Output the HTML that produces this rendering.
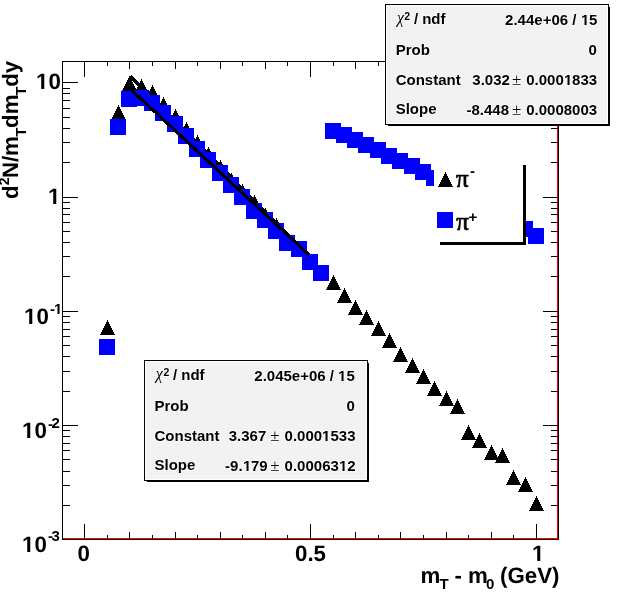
<!DOCTYPE html>
<html><head><meta charset="utf-8"><title>mT spectra</title>
<style>html,body{margin:0;padding:0;background:#fff;overflow:hidden;} svg{display:block;}</style>
</head><body>
<svg width="623" height="599" viewBox="0 0 623 599">
<rect x="0" y="0" width="623" height="599" fill="#fff"/>
<g shape-rendering="crispEdges">
<rect x="557" y="61" width="1" height="478" fill="#ff0000"/>
<rect x="62" y="538" width="496" height="1" fill="#ff0000"/>
<rect x="62" y="61" width="1" height="479" fill="#000"/>
<rect x="62" y="61" width="497" height="1" fill="#000"/>
<rect x="558" y="61" width="1" height="479" fill="#000"/>
<rect x="62" y="539" width="497" height="1" fill="#000"/>
<rect x="63" y="505" width="7" height="1" fill="#000"/>
<rect x="551" y="505" width="7" height="1" fill="#000"/>
<rect x="63" y="485" width="7" height="1" fill="#000"/>
<rect x="551" y="485" width="7" height="1" fill="#000"/>
<rect x="63" y="471" width="7" height="1" fill="#000"/>
<rect x="551" y="471" width="7" height="1" fill="#000"/>
<rect x="63" y="459" width="7" height="1" fill="#000"/>
<rect x="551" y="459" width="7" height="1" fill="#000"/>
<rect x="63" y="450" width="7" height="1" fill="#000"/>
<rect x="551" y="450" width="7" height="1" fill="#000"/>
<rect x="63" y="443" width="7" height="1" fill="#000"/>
<rect x="551" y="443" width="7" height="1" fill="#000"/>
<rect x="63" y="436" width="7" height="1" fill="#000"/>
<rect x="551" y="436" width="7" height="1" fill="#000"/>
<rect x="63" y="430" width="7" height="1" fill="#000"/>
<rect x="551" y="430" width="7" height="1" fill="#000"/>
<rect x="63" y="425" width="15" height="1" fill="#000"/>
<rect x="543" y="425" width="15" height="1" fill="#000"/>
<rect x="63" y="391" width="7" height="1" fill="#000"/>
<rect x="551" y="391" width="7" height="1" fill="#000"/>
<rect x="63" y="371" width="7" height="1" fill="#000"/>
<rect x="551" y="371" width="7" height="1" fill="#000"/>
<rect x="63" y="356" width="7" height="1" fill="#000"/>
<rect x="551" y="356" width="7" height="1" fill="#000"/>
<rect x="63" y="345" width="7" height="1" fill="#000"/>
<rect x="551" y="345" width="7" height="1" fill="#000"/>
<rect x="63" y="336" width="7" height="1" fill="#000"/>
<rect x="551" y="336" width="7" height="1" fill="#000"/>
<rect x="63" y="329" width="7" height="1" fill="#000"/>
<rect x="551" y="329" width="7" height="1" fill="#000"/>
<rect x="63" y="322" width="7" height="1" fill="#000"/>
<rect x="551" y="322" width="7" height="1" fill="#000"/>
<rect x="63" y="316" width="7" height="1" fill="#000"/>
<rect x="551" y="316" width="7" height="1" fill="#000"/>
<rect x="63" y="311" width="15" height="1" fill="#000"/>
<rect x="543" y="311" width="15" height="1" fill="#000"/>
<rect x="63" y="276" width="7" height="1" fill="#000"/>
<rect x="551" y="276" width="7" height="1" fill="#000"/>
<rect x="63" y="256" width="7" height="1" fill="#000"/>
<rect x="551" y="256" width="7" height="1" fill="#000"/>
<rect x="63" y="242" width="7" height="1" fill="#000"/>
<rect x="551" y="242" width="7" height="1" fill="#000"/>
<rect x="63" y="231" width="7" height="1" fill="#000"/>
<rect x="551" y="231" width="7" height="1" fill="#000"/>
<rect x="63" y="222" width="7" height="1" fill="#000"/>
<rect x="551" y="222" width="7" height="1" fill="#000"/>
<rect x="63" y="214" width="7" height="1" fill="#000"/>
<rect x="551" y="214" width="7" height="1" fill="#000"/>
<rect x="63" y="208" width="7" height="1" fill="#000"/>
<rect x="551" y="208" width="7" height="1" fill="#000"/>
<rect x="63" y="202" width="7" height="1" fill="#000"/>
<rect x="551" y="202" width="7" height="1" fill="#000"/>
<rect x="63" y="197" width="15" height="1" fill="#000"/>
<rect x="543" y="197" width="15" height="1" fill="#000"/>
<rect x="63" y="162" width="7" height="1" fill="#000"/>
<rect x="551" y="162" width="7" height="1" fill="#000"/>
<rect x="63" y="142" width="7" height="1" fill="#000"/>
<rect x="551" y="142" width="7" height="1" fill="#000"/>
<rect x="63" y="128" width="7" height="1" fill="#000"/>
<rect x="551" y="128" width="7" height="1" fill="#000"/>
<rect x="63" y="117" width="7" height="1" fill="#000"/>
<rect x="551" y="117" width="7" height="1" fill="#000"/>
<rect x="63" y="108" width="7" height="1" fill="#000"/>
<rect x="551" y="108" width="7" height="1" fill="#000"/>
<rect x="63" y="100" width="7" height="1" fill="#000"/>
<rect x="551" y="100" width="7" height="1" fill="#000"/>
<rect x="63" y="93" width="7" height="1" fill="#000"/>
<rect x="551" y="93" width="7" height="1" fill="#000"/>
<rect x="63" y="88" width="7" height="1" fill="#000"/>
<rect x="551" y="88" width="7" height="1" fill="#000"/>
<rect x="63" y="82" width="15" height="1" fill="#000"/>
<rect x="543" y="82" width="15" height="1" fill="#000"/>
<rect x="84" y="524" width="1" height="15" fill="#000"/>
<rect x="84" y="62" width="1" height="15" fill="#000"/>
<rect x="107" y="535" width="1" height="4" fill="#000"/>
<rect x="107" y="62" width="1" height="4" fill="#000"/>
<rect x="129" y="532" width="1" height="7" fill="#000"/>
<rect x="129" y="62" width="1" height="7" fill="#000"/>
<rect x="152" y="535" width="1" height="4" fill="#000"/>
<rect x="152" y="62" width="1" height="4" fill="#000"/>
<rect x="175" y="532" width="1" height="7" fill="#000"/>
<rect x="175" y="62" width="1" height="7" fill="#000"/>
<rect x="197" y="535" width="1" height="4" fill="#000"/>
<rect x="197" y="62" width="1" height="4" fill="#000"/>
<rect x="220" y="532" width="1" height="7" fill="#000"/>
<rect x="220" y="62" width="1" height="7" fill="#000"/>
<rect x="242" y="535" width="1" height="4" fill="#000"/>
<rect x="242" y="62" width="1" height="4" fill="#000"/>
<rect x="265" y="532" width="1" height="7" fill="#000"/>
<rect x="265" y="62" width="1" height="7" fill="#000"/>
<rect x="287" y="535" width="1" height="4" fill="#000"/>
<rect x="287" y="62" width="1" height="4" fill="#000"/>
<rect x="310" y="524" width="1" height="15" fill="#000"/>
<rect x="310" y="62" width="1" height="15" fill="#000"/>
<rect x="333" y="535" width="1" height="4" fill="#000"/>
<rect x="333" y="62" width="1" height="4" fill="#000"/>
<rect x="355" y="532" width="1" height="7" fill="#000"/>
<rect x="355" y="62" width="1" height="7" fill="#000"/>
<rect x="378" y="535" width="1" height="4" fill="#000"/>
<rect x="378" y="62" width="1" height="4" fill="#000"/>
<rect x="400" y="532" width="1" height="7" fill="#000"/>
<rect x="400" y="62" width="1" height="7" fill="#000"/>
<rect x="423" y="535" width="1" height="4" fill="#000"/>
<rect x="423" y="62" width="1" height="4" fill="#000"/>
<rect x="446" y="532" width="1" height="7" fill="#000"/>
<rect x="446" y="62" width="1" height="7" fill="#000"/>
<rect x="468" y="535" width="1" height="4" fill="#000"/>
<rect x="468" y="62" width="1" height="4" fill="#000"/>
<rect x="491" y="532" width="1" height="7" fill="#000"/>
<rect x="491" y="62" width="1" height="7" fill="#000"/>
<rect x="513" y="535" width="1" height="4" fill="#000"/>
<rect x="513" y="62" width="1" height="4" fill="#000"/>
<rect x="536" y="524" width="1" height="15" fill="#000"/>
<rect x="536" y="62" width="1" height="15" fill="#000"/>
<polygon points="100,335 115,335 107.5,320" fill="#000"/>
<polygon points="111,120 126,120 118.5,105" fill="#000"/>
<polygon points="122,91 137,91 129.5,76" fill="#000"/>
<polygon points="134,94 149,94 141.5,79" fill="#000"/>
<polygon points="145,100 160,100 152.5,85" fill="#000"/>
<polygon points="156,112 171,112 163.5,97" fill="#000"/>
<polygon points="168,124 183,124 175.5,109" fill="#000"/>
<polygon points="179,137 194,137 186.5,122" fill="#000"/>
<polygon points="190,150 205,150 197.5,135" fill="#000"/>
<polygon points="201,162 216,162 208.5,147" fill="#000"/>
<polygon points="213,175 228,175 220.5,160" fill="#000"/>
<polygon points="224,188 239,188 231.5,173" fill="#000"/>
<polygon points="235,199 250,199 242.5,184" fill="#000"/>
<polygon points="247,210 262,210 254.5,195" fill="#000"/>
<polygon points="258,223 273,223 265.5,208" fill="#000"/>
<polygon points="269,233 284,233 276.5,218" fill="#000"/>
<polygon points="280,250 295,250 287.5,235" fill="#000"/>
<polygon points="292,257 307,257 299.5,242" fill="#000"/>
<polygon points="303,270 318,270 310.5,255" fill="#000"/>
<polygon points="314,281 329,281 321.5,266" fill="#000"/>
<polygon points="326,290 341,290 333.5,275" fill="#000"/>
<polygon points="337,303 352,303 344.5,288" fill="#000"/>
<polygon points="348,315 363,315 355.5,300" fill="#000"/>
<polygon points="359,325 374,325 366.5,310" fill="#000"/>
<polygon points="371,336 386,336 378.5,321" fill="#000"/>
<polygon points="382,348 397,348 389.5,333" fill="#000"/>
<polygon points="393,362 408,362 400.5,347" fill="#000"/>
<polygon points="405,373 420,373 412.5,358" fill="#000"/>
<polygon points="416,384 431,384 423.5,369" fill="#000"/>
<polygon points="427,396 442,396 434.5,381" fill="#000"/>
<polygon points="439,406 454,406 446.5,391" fill="#000"/>
<polygon points="450,414 465,414 457.5,399" fill="#000"/>
<polygon points="461,440 476,440 468.5,425" fill="#000"/>
<polygon points="472,448 487,448 479.5,433" fill="#000"/>
<polygon points="484,460 499,460 491.5,445" fill="#000"/>
<polygon points="495,463 510,463 502.5,448" fill="#000"/>
<polygon points="506,485 521,485 513.5,470" fill="#000"/>
<polygon points="518,492 533,492 525.5,477" fill="#000"/>
<polygon points="529,511 544,511 536.5,496" fill="#000"/>
</g>
<polyline points="130.45,76.38 133.43,79.38 136.40,82.39 139.38,85.39 142.36,88.39 145.33,91.39 148.31,94.40 151.29,97.40 154.27,100.40 157.24,103.41 160.22,106.41 163.20,109.41 166.17,112.42 169.15,115.42 172.13,118.42 175.10,121.42 178.08,124.43 181.06,127.43 184.03,130.43 187.01,133.44 189.99,136.44 192.96,139.44 195.94,142.44 198.92,145.45 201.90,148.45 204.87,151.45 207.85,154.46 210.83,157.46 213.80,160.46 216.78,163.46 219.76,166.47 222.73,169.47 225.71,172.47 228.69,175.48 231.66,178.48 234.64,181.48 237.62,184.48 240.59,187.49 243.57,190.49 246.55,193.49 249.53,196.50 252.50,199.50 255.48,202.50 258.46,205.50 261.43,208.51 264.41,211.51 267.39,214.51 270.36,217.52 273.34,220.52 276.32,223.52 279.29,226.53 282.27,229.53 285.25,232.53 288.23,235.53 291.20,238.54 294.18,241.54 297.16,244.54 300.13,247.55 303.11,250.55 306.09,253.55 309.06,256.55" fill="none" stroke="#000" stroke-width="4" shape-rendering="crispEdges"/>
<g shape-rendering="crispEdges">
<rect x="99" y="339" width="16" height="16" fill="#0000ff"/>
<rect x="110" y="119" width="16" height="16" fill="#0000ff"/>
<rect x="121" y="91" width="16" height="16" fill="#0000ff"/>
<rect x="133" y="90" width="16" height="16" fill="#0000ff"/>
<rect x="144" y="95" width="16" height="16" fill="#0000ff"/>
<rect x="155" y="105" width="16" height="16" fill="#0000ff"/>
<rect x="167" y="116" width="16" height="16" fill="#0000ff"/>
<rect x="178" y="128" width="16" height="16" fill="#0000ff"/>
<rect x="189" y="141" width="16" height="16" fill="#0000ff"/>
<rect x="200" y="152" width="16" height="16" fill="#0000ff"/>
<rect x="212" y="165" width="16" height="16" fill="#0000ff"/>
<rect x="223" y="177" width="16" height="16" fill="#0000ff"/>
<rect x="234" y="189" width="16" height="16" fill="#0000ff"/>
<rect x="246" y="203" width="16" height="16" fill="#0000ff"/>
<rect x="257" y="212" width="16" height="16" fill="#0000ff"/>
<rect x="268" y="223" width="16" height="16" fill="#0000ff"/>
<rect x="279" y="235" width="16" height="16" fill="#0000ff"/>
<rect x="291" y="241" width="16" height="16" fill="#0000ff"/>
<rect x="302" y="254" width="16" height="16" fill="#0000ff"/>
<rect x="313" y="265" width="16" height="16" fill="#0000ff"/>
<rect x="325" y="123" width="16" height="16" fill="#0000ff"/>
<rect x="336" y="127" width="16" height="16" fill="#0000ff"/>
<rect x="347" y="132" width="16" height="16" fill="#0000ff"/>
<rect x="358" y="137" width="16" height="16" fill="#0000ff"/>
<rect x="370" y="142" width="16" height="16" fill="#0000ff"/>
<rect x="381" y="148" width="16" height="16" fill="#0000ff"/>
<rect x="392" y="153" width="16" height="16" fill="#0000ff"/>
<rect x="404" y="158" width="16" height="16" fill="#0000ff"/>
<rect x="415" y="164" width="16" height="16" fill="#0000ff"/>
<rect x="426" y="170" width="16" height="16" fill="#0000ff"/>
<rect x="438" y="176" width="16" height="16" fill="#0000ff"/>
<rect x="449" y="182" width="16" height="16" fill="#0000ff"/>
<rect x="460" y="188" width="16" height="16" fill="#0000ff"/>
<rect x="471" y="194" width="16" height="16" fill="#0000ff"/>
<rect x="483" y="200" width="16" height="16" fill="#0000ff"/>
<rect x="494" y="206" width="16" height="16" fill="#0000ff"/>
<rect x="505" y="212" width="16" height="16" fill="#0000ff"/>
<rect x="517" y="221" width="16" height="16" fill="#0000ff"/>
<rect x="528" y="228" width="16" height="16" fill="#0000ff"/>
</g>
<polyline points="130.45,89.08 133.43,91.84 136.40,94.60 139.38,97.37 142.36,100.13 145.33,102.89 148.31,105.66 151.29,108.42 154.27,111.19 157.24,113.95 160.22,116.71 163.20,119.48 166.17,122.24 169.15,125.00 172.13,127.77 175.10,130.53 178.08,133.30 181.06,136.06 184.03,138.82 187.01,141.59 189.99,144.35 192.96,147.11 195.94,149.88 198.92,152.64 201.90,155.41 204.87,158.17 207.85,160.93 210.83,163.70 213.80,166.46 216.78,169.22 219.76,171.99 222.73,174.75 225.71,177.52 228.69,180.28 231.66,183.04 234.64,185.81 237.62,188.57 240.59,191.33 243.57,194.10 246.55,196.86 249.53,199.63 252.50,202.39 255.48,205.15 258.46,207.92 261.43,210.68 264.41,213.44 267.39,216.21 270.36,218.97 273.34,221.74 276.32,224.50 279.29,227.26 282.27,230.03 285.25,232.79 288.23,235.55 291.20,238.32 294.18,241.08 297.16,243.85 300.13,246.61 303.11,249.37 306.09,252.14 309.06,254.90" fill="none" stroke="#000" stroke-width="3" shape-rendering="crispEdges"/>
<g shape-rendering="crispEdges"><rect x="144" y="360" width="224" height="121" fill="#000"/>
<rect x="145" y="361" width="222" height="119" fill="#fff"/>
<rect x="146" y="362" width="220" height="117" fill="#f2f2f2"/>
<rect x="368" y="363" width="1" height="119" fill="#000"/>
<rect x="147" y="481" width="222" height="1" fill="#000"/></g>
<g stroke="#fff" stroke-width="1.3" stroke-linejoin="round" paint-order="stroke"><text x="155.8" y="379" font-size="16" font-weight="normal" font-family="'Liberation Serif', 'Times New Roman', serif" font-style="italic" fill="#000" >χ</text>
<text x="163.5" y="376" font-size="10.5" font-weight="bold" font-family="'Liberation Sans', Arial, Helvetica, sans-serif" fill="#000" >2</text>
<text x="172.9" y="380" font-size="15" font-weight="bold" font-family="'Liberation Sans', Arial, Helvetica, sans-serif" fill="#000" >/</text>
<text x="181.3" y="380" font-size="15" font-weight="bold" font-family="'Liberation Sans', Arial, Helvetica, sans-serif" fill="#000" >ndf</text>
<text x="254.3" y="381" font-size="15" font-weight="bold" font-family="'Liberation Sans', Arial, Helvetica, sans-serif" fill="#000" >2.045e+06 / </text>
<text x="338" y="381" font-size="15" font-weight="bold" font-family="'Liberation Sans', Arial, Helvetica, sans-serif" fill="#000" >1</text>
<text x="346.47" y="381" font-size="15" font-weight="bold" font-family="'Liberation Sans', Arial, Helvetica, sans-serif" fill="#000" >5</text>
<text x="154.5" y="411" font-size="15" font-weight="bold" font-family="'Liberation Sans', Arial, Helvetica, sans-serif" fill="#000" >Prob</text>
<text x="346.6" y="411" font-size="15" font-weight="bold" font-family="'Liberation Sans', Arial, Helvetica, sans-serif" fill="#000" >0</text>
<text x="154.5" y="441" font-size="15" font-weight="bold" font-family="'Liberation Sans', Arial, Helvetica, sans-serif" fill="#000" >Constant</text>
<text x="228.7" y="441" font-size="15" font-weight="bold" font-family="'Liberation Sans', Arial, Helvetica, sans-serif" fill="#000" >3.367</text>
<text x="270.15" y="441" font-size="17" font-weight="normal" font-family="'Liberation Serif', 'Times New Roman', serif" fill="#000" >±</text>
<text x="284.6" y="441" font-size="15" font-weight="bold" font-family="'Liberation Sans', Arial, Helvetica, sans-serif" fill="#000" >0.000</text>
<text x="322" y="441" font-size="15" font-weight="bold" font-family="'Liberation Sans', Arial, Helvetica, sans-serif" fill="#000" >1</text>
<text x="330.48" y="441" font-size="15" font-weight="bold" font-family="'Liberation Sans', Arial, Helvetica, sans-serif" fill="#000" >533</text>
<text x="154.5" y="470" font-size="15" font-weight="bold" font-family="'Liberation Sans', Arial, Helvetica, sans-serif" fill="#000" >Slope</text>
<text x="225.1" y="471" font-size="15" font-weight="bold" font-family="'Liberation Sans', Arial, Helvetica, sans-serif" fill="#000" >-9.</text>
<text x="243" y="471" font-size="15" font-weight="bold" font-family="'Liberation Sans', Arial, Helvetica, sans-serif" fill="#000" >1</text>
<text x="250.95" y="471" font-size="15" font-weight="bold" font-family="'Liberation Sans', Arial, Helvetica, sans-serif" fill="#000" >79</text>
<text x="270.15" y="471" font-size="17" font-weight="normal" font-family="'Liberation Serif', 'Times New Roman', serif" fill="#000" >±</text>
<text x="284.6" y="471" font-size="15" font-weight="bold" font-family="'Liberation Sans', Arial, Helvetica, sans-serif" fill="#000" >0.00063</text>
<text x="339" y="471" font-size="15" font-weight="bold" font-family="'Liberation Sans', Arial, Helvetica, sans-serif" fill="#000" >1</text>
<text x="347.16" y="471" font-size="15" font-weight="bold" font-family="'Liberation Sans', Arial, Helvetica, sans-serif" fill="#000" >2</text></g>
<g shape-rendering="crispEdges"><rect x="338" y="379" width="3" height="3" fill="#f2f2f2"/><rect x="344" y="379" width="2" height="3" fill="#f2f2f2"/><rect x="341" y="379" width="1" height="1" fill="#f2f2f2" fill-opacity="0.356"/><rect x="341" y="380" width="1" height="1" fill="#f2f2f2" fill-opacity="0.537"/><rect x="343" y="379" width="1" height="1" fill="#f2f2f2" fill-opacity="0.293"/><rect x="343" y="380" width="1" height="1" fill="#f2f2f2" fill-opacity="0.471"/><rect x="322" y="439" width="3" height="3" fill="#f2f2f2"/><rect x="328" y="439" width="2" height="3" fill="#f2f2f2"/><rect x="325" y="439" width="1" height="1" fill="#f2f2f2" fill-opacity="0.356"/><rect x="325" y="440" width="1" height="1" fill="#f2f2f2" fill-opacity="0.537"/><rect x="327" y="439" width="1" height="1" fill="#f2f2f2" fill-opacity="0.293"/><rect x="327" y="440" width="1" height="1" fill="#f2f2f2" fill-opacity="0.471"/><rect x="243" y="469" width="3" height="3" fill="#f2f2f2"/><rect x="249" y="469" width="2" height="3" fill="#f2f2f2"/><rect x="246" y="469" width="1" height="1" fill="#f2f2f2" fill-opacity="0.356"/><rect x="246" y="470" width="1" height="1" fill="#f2f2f2" fill-opacity="0.537"/><rect x="248" y="469" width="1" height="1" fill="#f2f2f2" fill-opacity="0.293"/><rect x="248" y="470" width="1" height="1" fill="#f2f2f2" fill-opacity="0.471"/><rect x="339" y="469" width="3" height="3" fill="#f2f2f2"/><rect x="345" y="469" width="2" height="3" fill="#f2f2f2"/><rect x="342" y="469" width="1" height="1" fill="#f2f2f2" fill-opacity="0.356"/><rect x="342" y="470" width="1" height="1" fill="#f2f2f2" fill-opacity="0.537"/><rect x="344" y="469" width="1" height="1" fill="#f2f2f2" fill-opacity="0.293"/><rect x="344" y="470" width="1" height="1" fill="#f2f2f2" fill-opacity="0.471"/></g>
<g shape-rendering="crispEdges"><rect x="385" y="4" width="224" height="121" fill="#000"/>
<rect x="386" y="5" width="222" height="119" fill="#fff"/>
<rect x="387" y="6" width="220" height="117" fill="#f2f2f2"/>
<rect x="609" y="7" width="1" height="119" fill="#000"/>
<rect x="388" y="125" width="222" height="1" fill="#000"/></g>
<g stroke="#fff" stroke-width="1.3" stroke-linejoin="round" paint-order="stroke"><text x="397.1" y="23" font-size="16" font-weight="normal" font-family="'Liberation Serif', 'Times New Roman', serif" font-style="italic" fill="#000" >χ</text>
<text x="404.3" y="20" font-size="10.5" font-weight="bold" font-family="'Liberation Sans', Arial, Helvetica, sans-serif" fill="#000" >2</text>
<text x="414.1" y="24" font-size="15" font-weight="bold" font-family="'Liberation Sans', Arial, Helvetica, sans-serif" fill="#000" >/</text>
<text x="422.2" y="24" font-size="15" font-weight="bold" font-family="'Liberation Sans', Arial, Helvetica, sans-serif" fill="#000" >ndf</text>
<text x="505.1" y="25" font-size="15" font-weight="bold" font-family="'Liberation Sans', Arial, Helvetica, sans-serif" fill="#000" >2.44e+06 / </text>
<text x="581" y="25" font-size="15" font-weight="bold" font-family="'Liberation Sans', Arial, Helvetica, sans-serif" fill="#000" >1</text>
<text x="588.93" y="25" font-size="15" font-weight="bold" font-family="'Liberation Sans', Arial, Helvetica, sans-serif" fill="#000" >5</text>
<text x="395.7" y="55" font-size="15" font-weight="bold" font-family="'Liberation Sans', Arial, Helvetica, sans-serif" fill="#000" >Prob</text>
<text x="588.6" y="55" font-size="15" font-weight="bold" font-family="'Liberation Sans', Arial, Helvetica, sans-serif" fill="#000" >0</text>
<text x="395.7" y="85" font-size="15" font-weight="bold" font-family="'Liberation Sans', Arial, Helvetica, sans-serif" fill="#000" >Constant</text>
<text x="472.3" y="85" font-size="15" font-weight="bold" font-family="'Liberation Sans', Arial, Helvetica, sans-serif" fill="#000" >3.032</text>
<text x="511.9" y="85" font-size="17" font-weight="normal" font-family="'Liberation Serif', 'Times New Roman', serif" fill="#000" >±</text>
<text x="526.2" y="85" font-size="15" font-weight="bold" font-family="'Liberation Sans', Arial, Helvetica, sans-serif" fill="#000" >0.000</text>
<text x="564" y="85" font-size="15" font-weight="bold" font-family="'Liberation Sans', Arial, Helvetica, sans-serif" fill="#000" >1</text>
<text x="572.08" y="85" font-size="15" font-weight="bold" font-family="'Liberation Sans', Arial, Helvetica, sans-serif" fill="#000" >833</text>
<text x="395.7" y="114" font-size="15" font-weight="bold" font-family="'Liberation Sans', Arial, Helvetica, sans-serif" fill="#000" >Slope</text>
<text x="466.5" y="115" font-size="15" font-weight="bold" font-family="'Liberation Sans', Arial, Helvetica, sans-serif" fill="#000" >-8.448</text>
<text x="511.9" y="115" font-size="17" font-weight="normal" font-family="'Liberation Serif', 'Times New Roman', serif" fill="#000" >±</text>
<text x="526.2" y="115" font-size="15" font-weight="bold" font-family="'Liberation Sans', Arial, Helvetica, sans-serif" fill="#000" >0.0008003</text></g>
<g shape-rendering="crispEdges"><rect x="581" y="23" width="3" height="3" fill="#f2f2f2"/><rect x="587" y="23" width="2" height="3" fill="#f2f2f2"/><rect x="584" y="23" width="1" height="1" fill="#f2f2f2" fill-opacity="0.356"/><rect x="584" y="24" width="1" height="1" fill="#f2f2f2" fill-opacity="0.537"/><rect x="586" y="23" width="1" height="1" fill="#f2f2f2" fill-opacity="0.293"/><rect x="586" y="24" width="1" height="1" fill="#f2f2f2" fill-opacity="0.471"/><rect x="564" y="83" width="3" height="3" fill="#f2f2f2"/><rect x="570" y="83" width="2" height="3" fill="#f2f2f2"/><rect x="567" y="83" width="1" height="1" fill="#f2f2f2" fill-opacity="0.356"/><rect x="567" y="84" width="1" height="1" fill="#f2f2f2" fill-opacity="0.537"/><rect x="569" y="83" width="1" height="1" fill="#f2f2f2" fill-opacity="0.293"/><rect x="569" y="84" width="1" height="1" fill="#f2f2f2" fill-opacity="0.471"/></g>
<g shape-rendering="crispEdges"><rect x="434" y="160" width="89" height="82" fill="#fff"/>
<rect x="523" y="165" width="3" height="80" fill="#000"/>
<rect x="440" y="242" width="86" height="3" fill="#000"/>
<polygon points="438,187 453,187 445.5,172" fill="#000"/>
<rect x="437" y="212" width="16" height="16" fill="#0000ff"/></g>
<text x="456.0" y="187" font-size="25" font-weight="normal" font-family="'Liberation Serif', 'Times New Roman', serif" fill="#000" stroke="#000" stroke-width="0.7">π</text>
<text x="470.0" y="176" font-size="15" font-weight="bold" font-family="'Liberation Sans', Arial, Helvetica, sans-serif" fill="#000" >-</text>
<text x="456.3" y="230" font-size="25" font-weight="normal" font-family="'Liberation Serif', 'Times New Roman', serif" fill="#000" stroke="#000" stroke-width="0.7">π</text>
<text x="468.5" y="221.5" font-size="15" font-weight="bold" font-family="'Liberation Sans', Arial, Helvetica, sans-serif" fill="#000" >+</text>
<text x="36" y="89" font-size="22.3" font-weight="bold" font-family="'Liberation Sans', Arial, Helvetica, sans-serif" fill="#000"  text-rendering="geometricPrecision">10</text>
<text x="48" y="204" font-size="22.3" font-weight="bold" font-family="'Liberation Sans', Arial, Helvetica, sans-serif" fill="#000"  text-rendering="geometricPrecision">1</text>
<text x="24" y="324" font-size="22.3" font-weight="bold" font-family="'Liberation Sans', Arial, Helvetica, sans-serif" fill="#000"  text-rendering="geometricPrecision">10</text>
<text x="49.9" y="314" font-size="15" font-weight="bold" font-family="'Liberation Sans', Arial, Helvetica, sans-serif" fill="#000" >-</text>
<text x="54" y="314" font-size="15" font-weight="bold" font-family="'Liberation Sans', Arial, Helvetica, sans-serif" fill="#000" >1</text>
<text x="22" y="438" font-size="22.3" font-weight="bold" font-family="'Liberation Sans', Arial, Helvetica, sans-serif" fill="#000"  text-rendering="geometricPrecision">10</text>
<text x="47.9" y="428.5" font-size="15" font-weight="bold" font-family="'Liberation Sans', Arial, Helvetica, sans-serif" fill="#000" >-</text>
<text x="51.5" y="428" font-size="15" font-weight="bold" font-family="'Liberation Sans', Arial, Helvetica, sans-serif" fill="#000" >2</text>
<text x="22" y="552" font-size="22.3" font-weight="bold" font-family="'Liberation Sans', Arial, Helvetica, sans-serif" fill="#000"  text-rendering="geometricPrecision">10</text>
<text x="47.9" y="541" font-size="15" font-weight="bold" font-family="'Liberation Sans', Arial, Helvetica, sans-serif" fill="#000" >-</text>
<text x="51.5" y="541" font-size="15" font-weight="bold" font-family="'Liberation Sans', Arial, Helvetica, sans-serif" fill="#000" >3</text>
<text x="77.6" y="561" font-size="22.3" font-weight="bold" font-family="'Liberation Sans', Arial, Helvetica, sans-serif" fill="#000"  text-rendering="geometricPrecision">0</text>
<text x="295.0" y="561" font-size="22.3" font-weight="bold" font-family="'Liberation Sans', Arial, Helvetica, sans-serif" fill="#000"  text-rendering="geometricPrecision">0.5</text>
<text x="532" y="561" font-size="22.3" font-weight="bold" font-family="'Liberation Sans', Arial, Helvetica, sans-serif" fill="#000"  text-rendering="geometricPrecision">1</text>
<text x="420.4" y="583" font-size="22.3" font-weight="bold" font-family="'Liberation Sans', Arial, Helvetica, sans-serif" fill="#000"  text-rendering="geometricPrecision">m</text>
<text x="439.4" y="588.5" font-size="15" font-weight="bold" font-family="'Liberation Sans', Arial, Helvetica, sans-serif" fill="#000" >T</text>
<text x="454.4" y="583" font-size="22.3" font-weight="bold" font-family="'Liberation Sans', Arial, Helvetica, sans-serif" fill="#000"  text-rendering="geometricPrecision">-</text>
<text x="467.9" y="583" font-size="22.3" font-weight="bold" font-family="'Liberation Sans', Arial, Helvetica, sans-serif" fill="#000"  text-rendering="geometricPrecision">m</text>
<text x="485.9" y="588.5" font-size="15" font-weight="bold" font-family="'Liberation Sans', Arial, Helvetica, sans-serif" fill="#000" >0</text>
<text x="500.0" y="583" font-size="22.3" font-weight="bold" font-family="'Liberation Sans', Arial, Helvetica, sans-serif" fill="#000"  text-rendering="geometricPrecision">(GeV)</text>
<g shape-rendering="crispEdges"><rect x="48" y="201" width="5" height="3" fill="#fff"/>
<rect x="57" y="201" width="4" height="3" fill="#fff"/>
<rect x="56" y="202" width="1" height="2" fill="#fff" fill-opacity="0.74"/>
<rect x="56" y="201" width="1" height="1" fill="#fff" fill-opacity="0.41"/>
<rect x="53" y="202" width="1" height="2" fill="#fff" fill-opacity="0.22"/>
<rect x="54" y="312" width="3" height="2" fill="#fff"/>
<rect x="60" y="312" width="2" height="2" fill="#fff"/>
<rect x="57" y="312" width="1" height="1" fill="#fff" fill-opacity="0.33"/>
<rect x="57" y="313" width="1" height="1" fill="#fff" fill-opacity="0.51"/>
<rect x="59" y="312" width="1" height="1" fill="#fff" fill-opacity="0.27"/>
<rect x="59" y="313" width="1" height="1" fill="#fff" fill-opacity="0.45"/>
<rect x="532" y="558" width="5" height="3" fill="#fff"/>
<rect x="541" y="558" width="4" height="3" fill="#fff"/>
<rect x="540" y="559" width="1" height="2" fill="#fff" fill-opacity="0.74"/>
<rect x="540" y="558" width="1" height="1" fill="#fff" fill-opacity="0.41"/>
<rect x="537" y="559" width="1" height="2" fill="#fff" fill-opacity="0.22"/>
<rect x="36" y="86" width="5" height="3" fill="#fff"/>
<rect x="45" y="86" width="4" height="3" fill="#fff"/>
<rect x="44" y="87" width="1" height="2" fill="#fff" fill-opacity="0.74"/>
<rect x="44" y="86" width="1" height="1" fill="#fff" fill-opacity="0.41"/>
<rect x="41" y="87" width="1" height="2" fill="#fff" fill-opacity="0.22"/>
<rect x="24" y="321" width="5" height="3" fill="#fff"/>
<rect x="33" y="321" width="4" height="3" fill="#fff"/>
<rect x="32" y="322" width="1" height="2" fill="#fff" fill-opacity="0.74"/>
<rect x="32" y="321" width="1" height="1" fill="#fff" fill-opacity="0.41"/>
<rect x="29" y="322" width="1" height="2" fill="#fff" fill-opacity="0.22"/>
<rect x="22" y="435" width="5" height="3" fill="#fff"/>
<rect x="31" y="435" width="4" height="3" fill="#fff"/>
<rect x="30" y="436" width="1" height="2" fill="#fff" fill-opacity="0.74"/>
<rect x="30" y="435" width="1" height="1" fill="#fff" fill-opacity="0.41"/>
<rect x="27" y="436" width="1" height="2" fill="#fff" fill-opacity="0.22"/>
<rect x="22" y="549" width="5" height="3" fill="#fff"/>
<rect x="31" y="549" width="4" height="3" fill="#fff"/>
<rect x="30" y="550" width="1" height="2" fill="#fff" fill-opacity="0.74"/>
<rect x="30" y="549" width="1" height="1" fill="#fff" fill-opacity="0.41"/>
<rect x="27" y="550" width="1" height="2" fill="#fff" fill-opacity="0.22"/></g>
<text transform="translate(18,198.9) rotate(-90)" x="0" y="0" font-size="22.3" font-weight="bold" font-family="'Liberation Sans', Arial, Helvetica, sans-serif" text-rendering="geometricPrecision">d</text>
<text transform="translate(18,185.25) rotate(-90)" x="0" y="-9" font-size="14" font-weight="bold" font-family="'Liberation Sans', Arial, Helvetica, sans-serif">2</text>
<text transform="translate(18,177.9) rotate(-90)" x="0" y="0" font-size="22.3" font-weight="bold" font-family="'Liberation Sans', Arial, Helvetica, sans-serif" text-rendering="geometricPrecision">N</text>
<text transform="translate(18,161.9) rotate(-90)" x="0" y="0" font-size="22.3" font-weight="bold" font-family="'Liberation Sans', Arial, Helvetica, sans-serif" text-rendering="geometricPrecision">/</text>
<text transform="translate(18,155.9) rotate(-90)" x="0" y="0" font-size="22.3" font-weight="bold" font-family="'Liberation Sans', Arial, Helvetica, sans-serif" text-rendering="geometricPrecision">m</text>
<text transform="translate(18,136.85) rotate(-90)" x="0" y="7.5" font-size="15" font-weight="bold" font-family="'Liberation Sans', Arial, Helvetica, sans-serif">T</text>
<text transform="translate(18,128.05) rotate(-90)" x="0" y="0" font-size="22.3" font-weight="bold" font-family="'Liberation Sans', Arial, Helvetica, sans-serif" text-rendering="geometricPrecision">d</text>
<text transform="translate(18,114.25) rotate(-90)" x="0" y="0" font-size="22.3" font-weight="bold" font-family="'Liberation Sans', Arial, Helvetica, sans-serif" text-rendering="geometricPrecision">m</text>
<text transform="translate(18,95.65) rotate(-90)" x="0" y="7.5" font-size="15" font-weight="bold" font-family="'Liberation Sans', Arial, Helvetica, sans-serif">T</text>
<text transform="translate(18,86.85) rotate(-90)" x="0" y="0" font-size="22.3" font-weight="bold" font-family="'Liberation Sans', Arial, Helvetica, sans-serif" text-rendering="geometricPrecision">d</text>
<text transform="translate(18,73.35) rotate(-90)" x="0" y="0" font-size="22.3" font-weight="bold" font-family="'Liberation Sans', Arial, Helvetica, sans-serif" text-rendering="geometricPrecision">y</text>
</svg>
</body></html>
